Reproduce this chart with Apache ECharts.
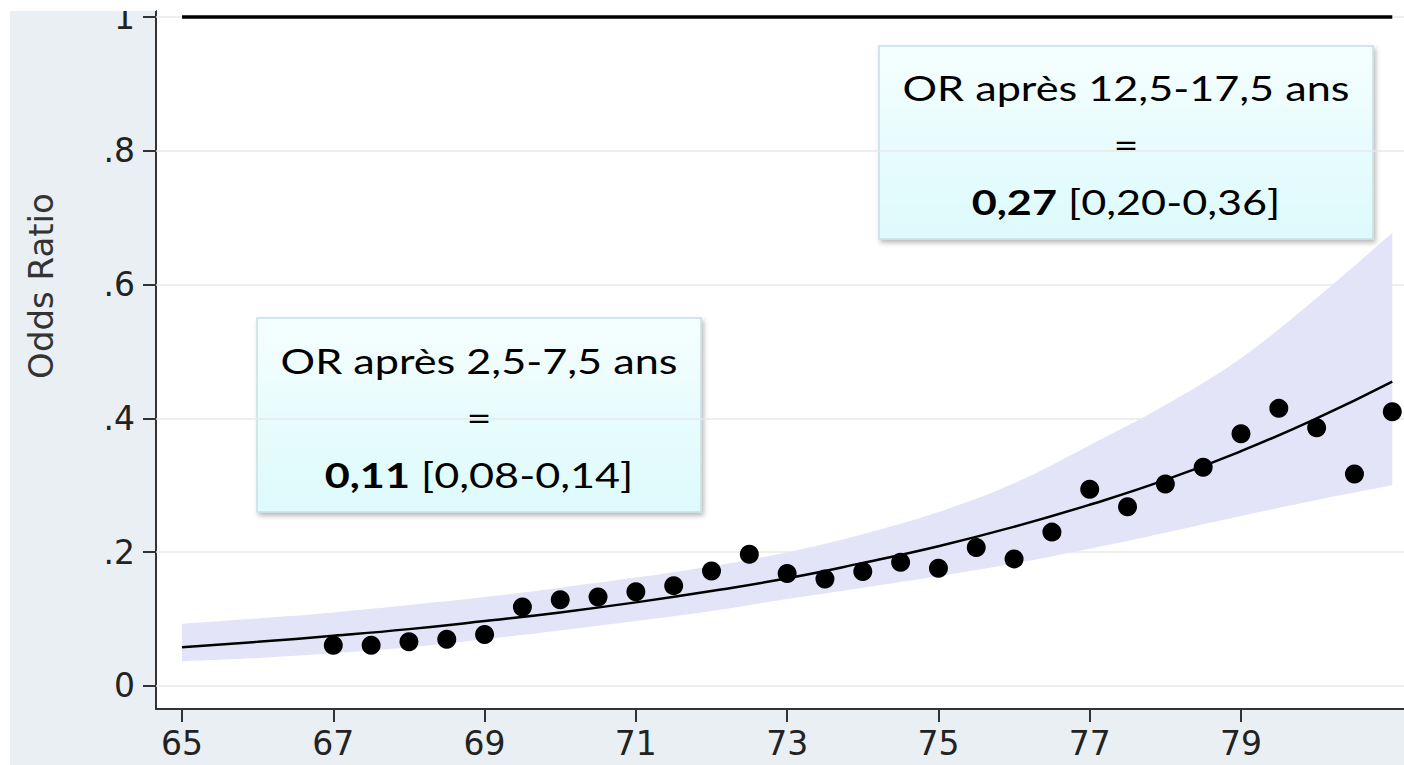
<!DOCTYPE html>
<html>
<head>
<meta charset="utf-8">
<script src="https://cdn.jsdelivr.net/npm/echarts@6.0.0/dist/echarts.min.js"></script>
<style>
html,body{margin:0;padding:0;background:#fff;}
#chart{width:1404px;height:765px;}
</style>
</head>
<body>
<div id="chart"></div>
<script>
// ---- data ----
const xTicks = [65, 67, 69, 71, 73, 75, 77, 79];
const yTicks = [0, 0.2, 0.4, 0.6, 0.8, 1];
const yTickLabels = ['0', '.2', '.4', '.6', '.8', '1'];

const ages = [67, 67.5, 68, 68.5, 69, 69.5, 70, 70.5, 71, 71.5, 72, 72.5, 73, 73.5, 74, 74.5,
              75, 75.5, 76, 76.5, 77, 77.5, 78, 78.5, 79, 79.5, 80, 80.5, 81];
const oddsRatio = [0.061, 0.061, 0.066, 0.070, 0.077, 0.118, 0.129, 0.133, 0.141, 0.150, 0.172, 0.197,
                   0.168, 0.160, 0.171, 0.185, 0.176, 0.207, 0.190, 0.230, 0.294, 0.268, 0.302, 0.327,
                   0.377, 0.415, 0.386, 0.317, 0.410];

const fitAges = [65, 66, 67, 68, 69, 70, 71, 72, 73, 74, 75, 76, 77, 78, 79, 80, 81];
const fitOR   = [0.058, 0.066, 0.075, 0.085, 0.097, 0.110, 0.125, 0.142, 0.161, 0.184, 0.209, 0.238, 0.271, 0.308, 0.351, 0.400, 0.455];
const ciLower = [0.037, 0.042, 0.049, 0.058, 0.070, 0.083, 0.097, 0.112, 0.130, 0.147, 0.164, 0.183, 0.205, 0.229, 0.254, 0.278, 0.300];
const ciUpper = [0.093, 0.101, 0.110, 0.121, 0.133, 0.147, 0.162, 0.179, 0.200, 0.227, 0.260, 0.303, 0.360, 0.420, 0.490, 0.580, 0.677];

const refLineX = [65, 81];
const refLineY = 1;

const yAxisTitle = 'Odds Ratio';
const box1Text = 'OR après 2,5-7,5 ans\n=\n{b|0,11} [0,08-0,14]';
const box2Text = 'OR après 12,5-17,5 ans\n=\n{b|0,27} [0,20-0,36]';

// ---- chart ----
const chart = echarts.init(document.getElementById('chart'), null, {renderer: 'svg'});

const bandData = fitAges.map((x, i) => [x, ciLower[i], ciUpper[i]]);
const fitData = fitAges.map((x, i) => [x, fitOR[i]]);
const pointData = ages.map((x, i) => [x, oddsRatio[i]]);
const refData = refLineX.map(x => [x, refLineY]);

const axisFont = 'DejaVu Sans';
const boxFont = 'Lato';

function boxGroup(rect, text, cx, ty) {
  return {
    type: 'group',
    z: 50,
    children: [
      {
        type: 'rect',
        shape: rect,
        style: {
          fill: new echarts.graphic.LinearGradient(0, 0, 0, 1, [
            {offset: 0, color: '#f5fefe'},
            {offset: 1, color: '#ddfafc'}
          ]),
          stroke: '#c6dfe2',
          lineWidth: 1.5,
          shadowBlur: 5,
          shadowOffsetX: 2,
          shadowOffsetY: 3,
          shadowColor: 'rgba(0,0,0,0.28)'
        }
      },
      {
        type: 'text',
        x: cx,
        y: ty,
        scaleX: 1.27,
        style: {
          text: text,
          x: 0,
          y: 0,
          align: 'center',
          verticalAlign: 'top',
          fontFamily: boxFont,
          fontSize: 34,
          lineHeight: 57,
          fill: '#000',
          rich: {
            b: {fontFamily: boxFont, fontSize: 34, fontWeight: 'bold', lineHeight: 57, fill: '#000'}
          }
        }
      }
    ]
  };
}

const option = {
  animation: false,
  backgroundColor: '#ffffff',
  grid: {left: 156, right: 0, top: 11, bottom: 56, containLabel: false},
  xAxis: {
    type: 'value',
    min: 64.656,
    max: 81.155,
    axisLine: {show: true, onZero: false, lineStyle: {color: '#333', width: 2}},
    axisTick: {show: true, customValues: xTicks, length: 13, lineStyle: {color: '#333', width: 2}},
    axisLabel: {customValues: xTicks, margin: 18, color: '#222', fontFamily: axisFont, fontSize: 33},
    splitLine: {show: false}
  },
  yAxis: {
    type: 'value',
    min: -0.0344,
    max: 1.009,
    axisLine: {show: true, onZero: false, lineStyle: {color: '#333', width: 2}},
    axisTick: {show: true, customValues: yTicks, length: 13, lineStyle: {color: '#333', width: 2}},
    axisLabel: {
      customValues: yTicks, margin: 21, color: '#222', fontFamily: axisFont, fontSize: 33,
      formatter: function (v) {
        const i = yTicks.findIndex(t => Math.abs(t - v) < 1e-6);
        return i >= 0 ? yTickLabels[i] : '';
      }
    },
    splitLine: {show: false}
  },
  graphic: [
    {type: 'rect', silent: true, z: -5, shape: {x: 10, y: 11, width: 146, height: 754}, style: {fill: '#e9eff2'}},
    {type: 'rect', silent: true, z: -5, shape: {x: 10, y: 710, width: 1394, height: 55}, style: {fill: '#e9eff2'}},
    {type: 'rect', silent: true, z: 100, shape: {x: 0, y: 0, width: 156, height: 11}, style: {fill: '#ffffff'}},
    {
      type: 'text', silent: true, z: 60,
      x: 41, y: 286, rotation: Math.PI / 2,
      style: {text: yAxisTitle, fontFamily: axisFont, fontSize: 34, fill: '#333', align: 'center', verticalAlign: 'middle'}
    },
    boxGroup({x: 257, y: 318, width: 444, height: 194}, box1Text, 479, 332),
    boxGroup({x: 879, y: 46, width: 494, height: 193}, box2Text, 1126, 59)
  ],
  series: [
    {
      name: 'grid',
      type: 'line',
      data: [],
      z: 1,
      silent: true,
      markLine: {
        silent: true,
        z: 1,
        symbol: 'none',
        label: {show: false},
        lineStyle: {color: '#e9e9e9', width: 1.5, type: 'solid'},
        data: yTicks.map(v => ({yAxis: v}))
      }
    },
    {
      name: 'ciBand',
      type: 'custom',
      data: bandData,
      encode: {x: 0, y: [1, 2]},
      z: 6,
      silent: true,
      renderItem: function (params, api) {
        if (params.dataIndex !== 0) {
          return {type: 'group', children: []};
        }
        const up = fitAges.map((x, i) => api.coord([x, ciUpper[i]]));
        const lo = fitAges.map((x, i) => api.coord([x, ciLower[i]])).reverse();
        const pts = [up[0]].concat(up, [up[up.length - 1], lo[0]], lo, [lo[lo.length - 1]]);
        return {
          type: 'polygon',
          shape: {points: pts, smooth: 0.35},
          style: {fill: '#e4e4f8', stroke: null}
        };
      }
    },
    {
      name: 'fit',
      type: 'line',
      data: fitData,
      smooth: true,
      symbol: 'none',
      lineStyle: {color: '#000', width: 2.5},
      z: 7,
      silent: true
    },
    {
      name: 'ref',
      type: 'line',
      data: refData,
      symbol: 'none',
      clip: false,
      lineStyle: {color: '#000', width: 3.5},
      z: 7,
      silent: true
    },
    {
      name: 'points',
      type: 'scatter',
      data: pointData,
      symbol: 'circle',
      symbolSize: 19,
      itemStyle: {color: '#000', opacity: 1},
      z: 8,
      silent: true
    }
  ]
};
chart.setOption(option);
</script>
</body>
</html>
